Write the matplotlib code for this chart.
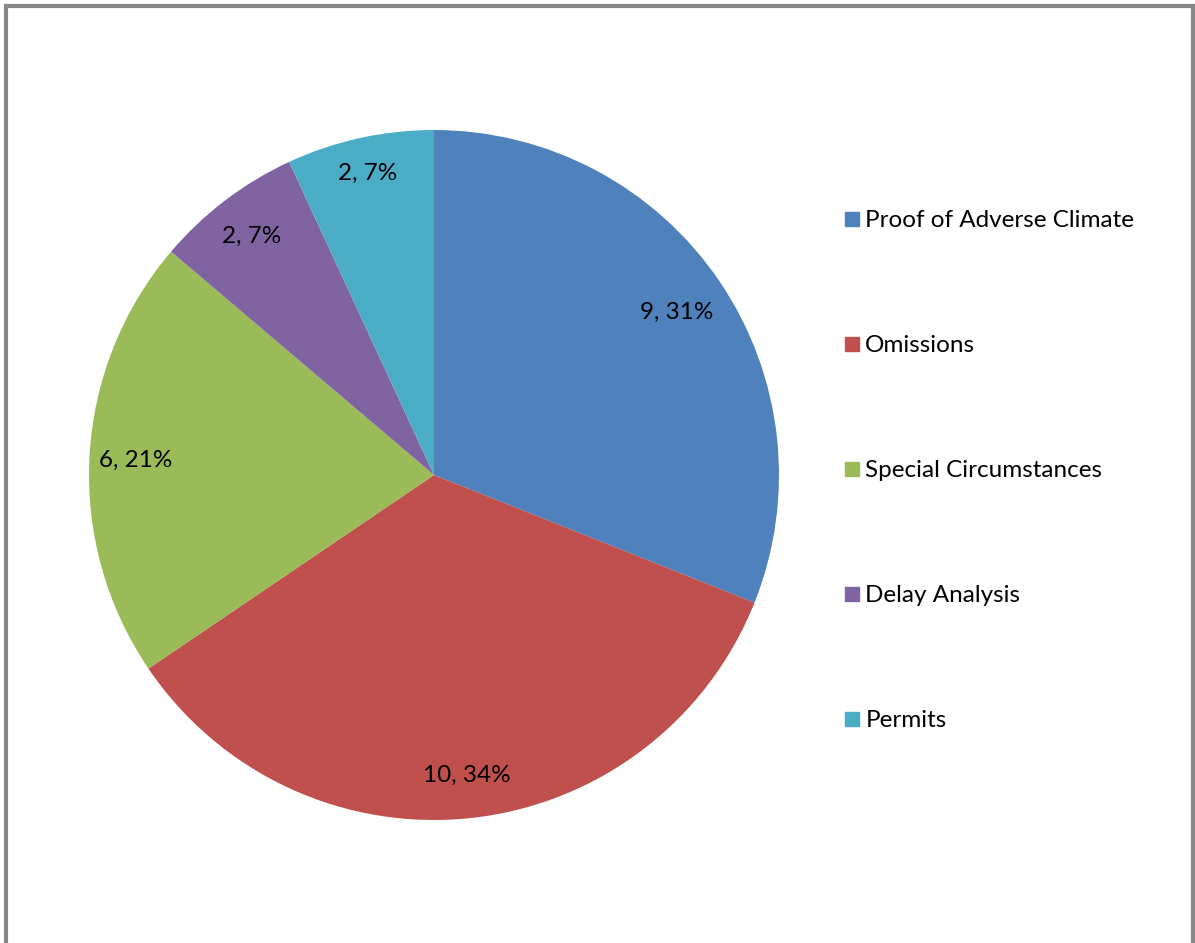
import matplotlib
matplotlib.use("Agg")
import numpy as np
import matplotlib.pyplot as plt
from matplotlib.lines import Line2D

categories = ["Proof of Adverse Climate", "Omissions", "Special Circumstances", "Delay Analysis", "Permits"]
values = [9, 10, 6, 2, 2]
colors = ["#4F81BD", "#C0504D", "#9BBB59", "#8064A2", "#4BACC6"]

plt.rcParams['font.family'] = ['Lato', 'DejaVu Sans']

W, H = 1195, 943
fig = plt.figure(figsize=(W / 100, H / 100), dpi=100)

cx, cy, r = 434, 475, 345
ax = fig.add_axes([(cx - r) / W, (H - cy - r) / H, 2 * r / W, 2 * r / H])
total = sum(values)
labels = [f"{v}, {round(v / total * 100)}%" for v in values]
wedges, _ = ax.pie(values, colors=colors, startangle=90, counterclock=False, radius=1)
label_dist = [0.85, 0.87, 0.865, 0.875, 0.9]
for w, lab, d in zip(wedges, labels, label_dist):
    ang = np.deg2rad((w.theta1 + w.theta2) / 2)
    ax.text(d * np.cos(ang), d * np.sin(ang), lab, fontsize=17.5, color="black",
            ha="center", va="center_baseline")
ax.set_xlim(-1, 1)
ax.set_ylim(-1, 1)
ax.set_aspect("equal")
ax.axis("off")

handles = [Line2D([], [], marker="s", linestyle="none", markersize=9.5,
                  markerfacecolor=c, markeredgecolor=c) for c in colors]
fig.legend(handles, categories, loc="upper left", bbox_to_anchor=(843 / W, 1 - 210 / H),
           frameon=False, fontsize=17.5, labelspacing=4.28, handlelength=0.7,
           handletextpad=0.22, borderpad=0, borderaxespad=0)

# outer chart border (left, top, right)
border = dict(color="#888888", linewidth=3, transform=fig.transFigure)
fig.add_artist(Line2D([6 / W, 6 / W], [0, 1 - 6 / H], **border))
fig.add_artist(Line2D([6 / W, 1193 / W], [1 - 6 / H, 1 - 6 / H], **border))
fig.add_artist(Line2D([1193 / W, 1193 / W], [0, 1 - 6 / H], **border))

fig.savefig("out.png", dpi=100)
